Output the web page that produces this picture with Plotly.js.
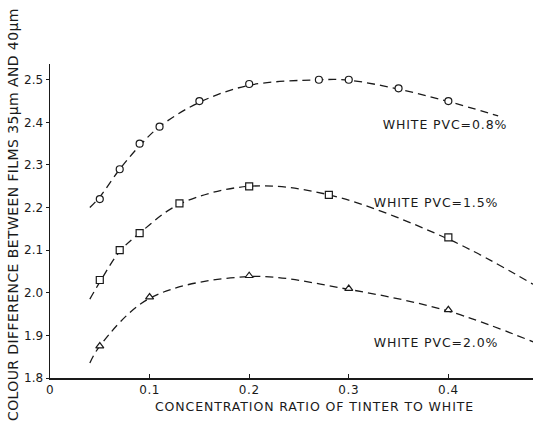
<!DOCTYPE html>
<html>
<head>
<meta charset="utf-8">
<script src="https://cdn.plot.ly/plotly-3.0.1.min.js"></script>
<style>
  html, body { margin: 0; padding: 0; background: #fff; }
  #chart { width: 533px; height: 424px; }
  #chart g.annotation text { letter-spacing: 0.9px; }
  #chart g.annotation[data-index="4"] text { letter-spacing: 0.4px; }
  #chart g.xtick text { letter-spacing: 0.6px; }
</style>
</head>
<body>
<div id="chart"></div>
<script>
// Measured points
const xCircle = [0.05, 0.07, 0.09, 0.11, 0.15, 0.20, 0.27, 0.30, 0.35, 0.40];
const yCircle = [2.22, 2.29, 2.35, 2.39, 2.45, 2.49, 2.50, 2.50, 2.48, 2.45];
const xSquare = [0.05, 0.07, 0.09, 0.13, 0.20, 0.28, 0.40];
const ySquare = [2.03, 2.10, 2.14, 2.21, 2.25, 2.23, 2.13];
const xTriangle = [0.05, 0.10, 0.20, 0.30, 0.40];
const yTriangle = [1.875, 1.99, 2.04, 2.01, 1.96];

// Fitted dashed curves as drawn
const xCurve08 = [0.04, 0.05, 0.07, 0.09, 0.11, 0.15, 0.20, 0.27, 0.30, 0.35, 0.40, 0.45];
const yCurve08 = [2.20, 2.225, 2.29, 2.345, 2.39, 2.447, 2.487, 2.500, 2.499, 2.478, 2.449, 2.415];
const xCurve15 = [0.04, 0.05, 0.07, 0.09, 0.13, 0.20, 0.28, 0.40, 0.485];
const yCurve15 = [1.985, 2.025, 2.097, 2.140, 2.208, 2.250, 2.230, 2.126, 2.02];
const xCurve20 = [0.04, 0.05, 0.10, 0.20, 0.30, 0.40, 0.485];
const yCurve20 = [1.835, 1.875, 1.987, 2.038, 2.008, 1.957, 1.885];

const labels = ["WHITE PVC=0.8%", "WHITE PVC=1.5%", "WHITE PVC=2.0%"];
const xTitle = "CONCENTRATION RATIO OF TINTER TO WHITE";
const yTitle = "COLOUR DIFFERENCE BETWEEN FILMS 35\u03bcm AND 40\u03bcm";
const xTicks = [0, 0.1, 0.2, 0.3, 0.4];
const xTickText = ["0", "0.1", "0.2", "0.3", "0.4"];
const yTicks = [1.8, 1.9, 2.0, 2.1, 2.2, 2.3, 2.4, 2.5];
const yTickText = ["1.8", "1.9", "2.0", "2.1", "2.2", "2.3", "2.4", "2.5"];

const FONT = "DejaVu Sans, sans-serif";
const INK = "#1a1a1a";

function curve(x, y) {
  return { x: x, y: y, mode: "lines", type: "scatter", hoverinfo: "skip",
    line: { color: INK, width: 1.3, dash: "8px,5px", shape: "spline", smoothing: 1 } };
}
function pts(x, y, sym) {
  return { x: x, y: y, mode: "markers", type: "scatter",
    marker: { symbol: sym, size: 7, color: "#ffffff", line: { color: INK, width: 1.2 } } };
}

const data = [
  curve(xCurve08, yCurve08),
  curve(xCurve15, yCurve15),
  curve(xCurve20, yCurve20),
  pts(xCircle, yCircle, "circle"),
  pts(xSquare, ySquare, "square"),
  pts(xTriangle, yTriangle, "triangle-up")
];

const layout = {
  width: 533, height: 424,
  margin: { l: 50, r: 0, t: 64, b: 46 },
  paper_bgcolor: "#ffffff", plot_bgcolor: "#ffffff",
  showlegend: false,
  font: { family: FONT, color: INK, size: 12 },
  xaxis: {
    range: [0, 0.485], showgrid: false, zeroline: false,
    showline: true, linecolor: INK, linewidth: 1.5,
    ticks: "inside", ticklen: 4, tickcolor: INK,
    tickvals: xTicks, ticktext: xTickText,
    tickfont: { size: 12, family: FONT, color: INK }
  },
  yaxis: {
    range: [1.8, 2.537], showgrid: false, zeroline: false,
    showline: true, linecolor: INK, linewidth: 1.5,
    ticks: "outside", ticklen: 3, tickcolor: INK,
    tickvals: yTicks, ticktext: yTickText,
    tickfont: { size: 12, family: FONT, color: INK }
  },
  annotations: [
    { text: labels[0], xref: "paper", yref: "paper", x: (445 - 50) / 483, y: (378 - 125) / 314,
      xanchor: "center", yanchor: "middle", showarrow: false, font: { size: 12.5, family: FONT, color: INK } },
    { text: labels[1], xref: "paper", yref: "paper", x: (436 - 50) / 483, y: (378 - 202) / 314,
      xanchor: "center", yanchor: "middle", showarrow: false, font: { size: 12.5, family: FONT, color: INK } },
    { text: labels[2], xref: "paper", yref: "paper", x: (436 - 50) / 483, y: (378 - 342) / 314,
      xanchor: "center", yanchor: "middle", showarrow: false, font: { size: 12.5, family: FONT, color: INK } },
    { text: xTitle, xref: "paper", yref: "paper", x: (314 - 50) / 483, y: (378 - 406) / 314,
      xanchor: "center", yanchor: "middle", showarrow: false, font: { size: 12.5, family: FONT, color: INK } },
    { text: yTitle, xref: "paper", yref: "paper", x: (13 - 50) / 483, y: (378 - 215) / 314,
      xanchor: "center", yanchor: "middle", textangle: -90, showarrow: false, font: { size: 14, family: FONT, color: INK } }
  ]
};

Plotly.newPlot("chart", data, layout, { displayModeBar: false, staticPlot: true });
</script>
</body>
</html>
